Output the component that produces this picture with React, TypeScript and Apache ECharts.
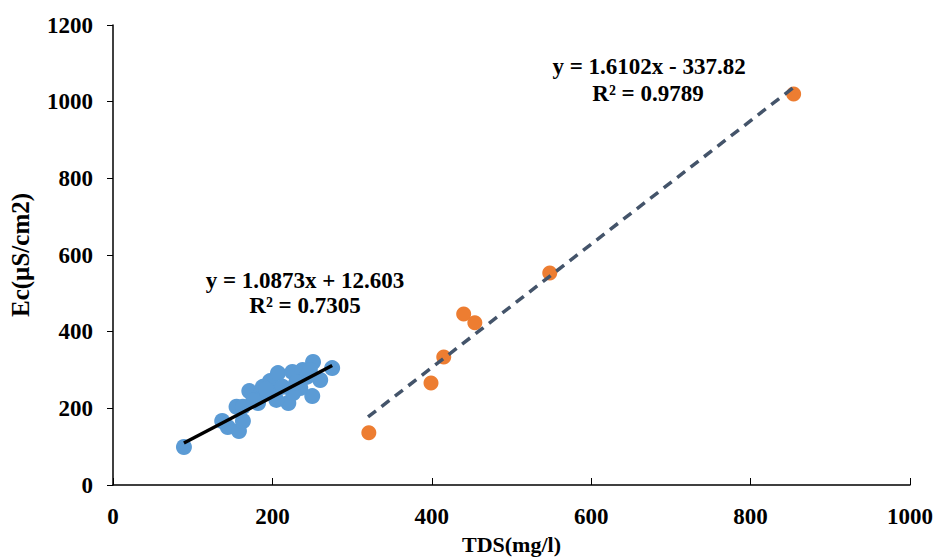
import React, { useEffect, useRef } from "react";
import * as echarts from "echarts";

const blueTDS = [89, 137, 144, 158, 163, 155, 171, 184, 182, 197, 207, 201, 220, 225, 238, 251, 250, 260, 275, 213, 235, 243, 188, 163, 205, 226, 176, 192, 230, 247];
const blueEC = [99, 167, 151, 141, 167, 204, 245, 235, 214, 271, 292, 240, 214, 295, 300, 321, 232, 274, 305, 256, 253, 282, 256, 204, 222, 240, 220, 250, 268, 300];
const orangeTDS = [321, 399, 415, 440, 454, 548, 854];
const orangeEC = [136, 266, 334, 446, 423, 553, 1020];

const blueFit = [1.0873, 12.603];
const blueFitRange = [89, 275];
const orangeFit = [1.6102, -337.82];
const orangeFitRange = [320, 856];

const xTicks = [0, 200, 400, 600, 800, 1000];
const yTicks = [0, 200, 400, 600, 800, 1000, 1200];

const blueEq = ["y = 1.0873x + 12.603", "R² = 0.7305"];
const orangeEq = ["y = 1.6102x - 337.82", "R² = 0.9789"];

const FONT = "'Liberation Serif', 'Times New Roman', serif";

export default function App() {
  const ref = useRef<HTMLDivElement>(null);
  useEffect(() => {
    const chart = echarts.init(ref.current!, null, { renderer: "svg" });
    const fitLine = (c: number[], r: number[]) => r.map((x) => [x, c[0] * x + c[1]]);
    const labelStyle = {
      fontFamily: FONT,
      fontWeight: "bold" as const,
      fontSize: 23,
      color: "#000",
    };
    const eqFont = `bold 23px ${FONT}`;
    chart.setOption({
      animation: false,
      grid: { left: 113, top: 25, width: 797, height: 460, containLabel: false, outerBoundsMode: "none" },
      xAxis: {
        type: "value",
        min: xTicks[0],
        max: xTicks[xTicks.length - 1],
        interval: 200,
        name: "TDS(mg/l)",
        nameLocation: "middle",
        nameGap: 40,
        nameTextStyle: { ...labelStyle, fontSize: 22, lineHeight: 24 },
        axisLine: { show: true, lineStyle: { color: "#000", width: 1.5 } },
        axisTick: { show: true, inside: true, length: 7, lineStyle: { color: "#000", width: 1 } },
        axisLabel: { ...labelStyle, margin: 20, formatter: (v: number) => String(v) },
        splitLine: { show: false },
      },
      yAxis: {
        type: "value",
        min: yTicks[0],
        max: yTicks[yTicks.length - 1],
        interval: 200,
        name: "Ec(µS/cm2)",
        nameLocation: "middle",
        nameGap: 80,
        nameRotate: 90,
        nameTextStyle: { ...labelStyle, fontSize: 25 },
        axisLine: { show: true, lineStyle: { color: "#000", width: 1.5 } },
        axisTick: { show: true, inside: false, length: 6, lineStyle: { color: "#000", width: 1 } },
        axisLabel: { ...labelStyle, margin: 20, formatter: (v: number) => String(v) },
        splitLine: { show: false },
      },
      series: [
        {
          type: "scatter",
          data: blueTDS.map((x, i) => [x, blueEC[i]]),
          symbolSize: 16,
          itemStyle: { color: "#5B9BD5", opacity: 1 },
          z: 2,
        },
        {
          type: "scatter",
          data: orangeTDS.map((x, i) => [x, orangeEC[i]]),
          symbolSize: 15,
          itemStyle: { color: "#ED7D31", opacity: 1 },
          z: 2,
        },
        {
          type: "line",
          data: fitLine(blueFit, blueFitRange),
          showSymbol: false,
          symbol: "none",
          lineStyle: { color: "#000", width: 3.5 },
          z: 3,
        },
        {
          type: "line",
          data: fitLine(orangeFit, orangeFitRange),
          showSymbol: false,
          symbol: "none",
          lineStyle: { color: "#44546A", width: 3.5, type: [10, 7] },
          z: 3,
        },
      ],
      graphic: [
        { type: "text", x: 305, y: 280, z: 10, style: { text: blueEq[0], font: eqFont, fill: "#000", align: "center", verticalAlign: "middle" } },
        { type: "text", x: 305, y: 305, z: 10, style: { text: blueEq[1], font: eqFont, fill: "#000", align: "center", verticalAlign: "middle" } },
        { type: "text", x: 649, y: 66, z: 10, style: { text: orangeEq[0], font: eqFont, fill: "#000", align: "center", verticalAlign: "middle" } },
        { type: "text", x: 648, y: 93, z: 10, style: { text: orangeEq[1], font: eqFont, fill: "#000", align: "center", verticalAlign: "middle" } },
      ],
    });
    return () => chart.dispose();
  }, []);
  return (
    <div
      ref={ref}
      style={{ position: "fixed", left: 0, top: 0, width: 936, height: 557, background: "#fff" }}
    />
  );
}
